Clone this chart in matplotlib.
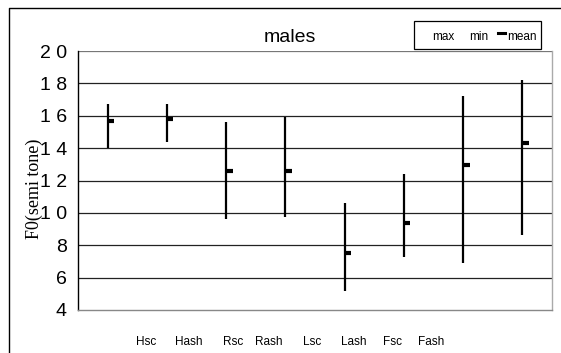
import matplotlib
matplotlib.use("Agg")
import matplotlib.pyplot as plt
from matplotlib.lines import Line2D
from matplotlib.patches import Rectangle

# data (semitones)
categories = ["Hsc", "Hash", "Rsc", "Rash", "Lsc", "Lash", "Fsc", "Fash"]
max_vals = [16.7, 16.7, 15.6, 15.9, 10.6, 12.4, 17.25, 18.2]
min_vals = [14.0, 14.4, 9.6, 9.75, 5.15, 7.3, 6.9, 8.65]
mean_vals = [15.7, 15.8, 12.6, 12.6, 7.55, 9.4, 12.95, 14.3]
yticks = [4, 6, 8, 10, 12, 14, 16, 18, 20]
ytick_labels = ["4", "6", "8", "1 0", "1 2", "1 4", "1 6", "1 8", "2 0"]

W, H = 561, 353
fig = plt.figure(figsize=(W / 100, H / 100), dpi=100)
plt.rcParams['font.family'] = ['Liberation Sans', 'DejaVu Sans']

# plot area, in pixels of the reference
left, right, top, bottom = 78, 552, 51, 310
ax = fig.add_axes([left / W, 1 - bottom / H, (right - left) / W, (bottom - top) / H])

xs = list(range(len(categories)))
ax.vlines(xs, min_vals, max_vals, color="black", lw=1.6)
ax.hlines(mean_vals, xs, [x + 0.11 for x in xs], color="black", lw=3)

ax.set_xlim(-0.5, len(categories) - 0.5)
ax.set_ylim(4, 20)
ax.set_yticks(yticks)
ax.set_yticklabels(ytick_labels, fontsize=14)
ax.tick_params(axis="y", length=0, pad=8)
ax.set_xticks([])
for y in yticks[1:]:
    ax.axhline(y, color="#222222" if y < 20 else "#777777", lw=0.9, zorder=0)

ax.spines["top"].set_visible(False)
ax.spines["left"].set_color("black")
ax.spines["bottom"].set_color("#888888")
ax.spines["right"].set_color("#aaaaaa")
for s in ax.spines.values():
    s.set_linewidth(1.0)

# category labels sit offset below the plot, as in the reference
label_px = [146, 189, 233, 269, 312, 354, 392, 431]
for name, px in zip(categories, label_px):
    fig.text(px / W, 1 - 342 / H, name, fontsize=8.5, ha="center", va="center")

fig.text(290 / W, 1 - 37 / H, "males", fontsize=14, ha="center", va="center")
fig.text(34 / W, 1 - 189 / H, "F0(semi tone)", fontsize=13, rotation=90,
         ha="center", va="center", family=["Liberation Serif", "DejaVu Serif"])

# legend box
fig.patches.append(Rectangle((414 / W, 1 - 49 / H), 127 / W, 28 / H, fill=False,
                             edgecolor="black", lw=0.9, transform=fig.transFigure))
fig.text(443 / W, 1 - 37 / H, "max", fontsize=8.5, ha="center", va="center")
fig.text(479 / W, 1 - 37 / H, "min", fontsize=8.5, ha="center", va="center")
fig.lines.append(Line2D([498 / W, 505 / W], [1 - 33.3 / H, 1 - 33.3 / H], color="black",
                        lw=2.2, transform=fig.transFigure))
fig.text(522 / W, 1 - 37 / H, "mean", fontsize=8.5, ha="center", va="center")

# outer chart frame (clipped at right and bottom)
fig.lines.append(Line2D([8.5 / W, 8.5 / W, 1.0], [0.0, 1 - 7.5 / H, 1 - 7.5 / H],
                        color="black", lw=1.0, transform=fig.transFigure))

fig.savefig("out.png", dpi=100)
